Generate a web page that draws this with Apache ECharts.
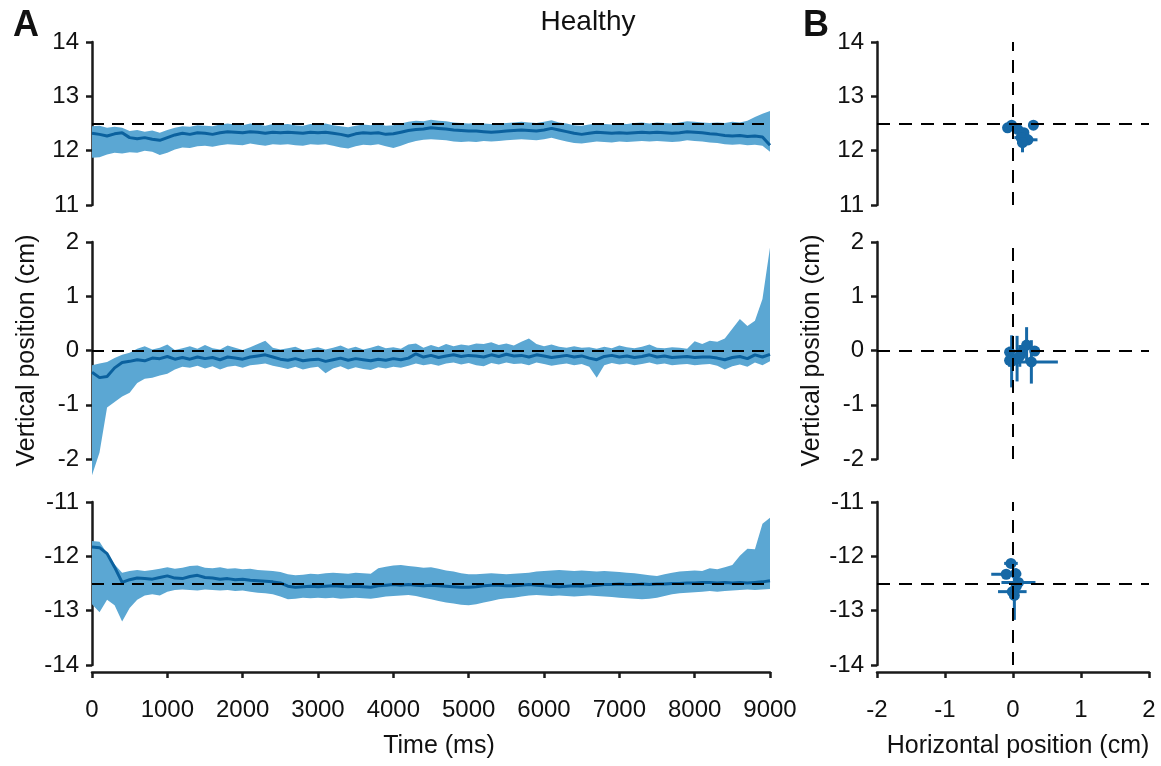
<!DOCTYPE html>
<html>
<head>
<meta charset="utf-8">
<script src="https://cdn.jsdelivr.net/npm/echarts@6/dist/echarts.min.js"></script>
<style>
html,body{margin:0;padding:0;background:#fff;}
#chart{width:1161px;height:766px;}
</style>
</head>
<body>
<div id="chart"></div>
<script>
// ---------------- DATA ----------------
const time = [0,100,200,300,400,500,600,700,800,900,1000,1100,1200,1300,1400,1500,1600,1700,1800,1900,2000,2100,2200,2300,2400,2500,2600,2700,2800,2900,3000,3100,3200,3300,3400,3500,3600,3700,3800,3900,4000,4100,4200,4300,4400,4500,4600,4700,4800,4900,5000,5100,5200,5300,5400,5500,5600,5700,5800,5900,6000,6100,6200,6300,6400,6500,6600,6700,6800,6900,7000,7100,7200,7300,7400,7500,7600,7700,7800,7900,8000,8100,8200,8300,8400,8500,8600,8700,8800,8900,9000];

// Top target (12.5)
const topMean = [12.32,12.30,12.27,12.31,12.33,12.24,12.22,12.24,12.21,12.19,12.24,12.29,12.32,12.30,12.33,12.32,12.30,12.33,12.35,12.34,12.33,12.35,12.34,12.32,12.34,12.33,12.34,12.33,12.32,12.34,12.33,12.34,12.32,12.30,12.27,12.31,12.33,12.32,12.33,12.30,12.31,12.34,12.37,12.39,12.40,12.42,12.41,12.40,12.38,12.37,12.36,12.36,12.35,12.34,12.35,12.36,12.37,12.38,12.37,12.36,12.38,12.41,12.38,12.35,12.32,12.30,12.32,12.34,12.33,12.32,12.33,12.32,12.33,12.34,12.33,12.34,12.33,12.32,12.33,12.35,12.34,12.33,12.31,12.30,12.28,12.27,12.28,12.26,12.27,12.25,12.10];
const topHigh = [12.45,12.46,12.42,12.44,12.42,12.36,12.38,12.35,12.37,12.33,12.38,12.42,12.45,12.44,12.47,12.46,12.45,12.48,12.50,12.48,12.47,12.50,12.48,12.46,12.49,12.48,12.49,12.47,12.46,12.49,12.48,12.50,12.47,12.45,12.43,12.46,12.48,12.47,12.49,12.46,12.47,12.50,12.53,12.55,12.54,12.57,12.55,12.54,12.52,12.51,12.50,12.51,12.50,12.49,12.50,12.51,12.52,12.53,12.52,12.51,12.53,12.56,12.52,12.50,12.47,12.46,12.48,12.50,12.49,12.48,12.50,12.49,12.51,12.52,12.50,12.52,12.51,12.50,12.52,12.54,12.53,12.52,12.51,12.52,12.51,12.53,12.52,12.55,12.62,12.68,12.73];
const topLow = [11.87,11.88,11.93,11.96,11.95,11.97,11.96,12.00,11.98,11.92,11.96,12.02,12.06,12.05,12.08,12.09,12.07,12.10,12.12,12.11,12.10,12.13,12.11,12.09,12.12,12.11,12.12,12.10,12.09,12.12,12.11,12.12,12.09,12.06,12.04,12.08,12.11,12.10,12.12,12.08,12.05,12.09,12.14,12.18,12.20,12.21,12.20,12.19,12.17,12.16,12.17,12.16,12.18,12.17,12.18,12.19,12.20,12.21,12.20,12.19,12.21,12.24,12.20,12.17,12.14,12.13,12.15,12.17,12.16,12.15,12.17,12.16,12.17,12.18,12.17,12.18,12.17,12.16,12.17,12.19,12.18,12.17,12.15,12.14,12.12,12.11,12.12,12.10,12.11,12.09,11.98];

// Middle target (0)
const midMean = [-0.40,-0.50,-0.48,-0.32,-0.22,-0.20,-0.17,-0.19,-0.14,-0.15,-0.11,-0.16,-0.13,-0.16,-0.12,-0.15,-0.13,-0.17,-0.12,-0.14,-0.16,-0.12,-0.10,-0.08,-0.12,-0.16,-0.18,-0.15,-0.19,-0.17,-0.16,-0.20,-0.17,-0.14,-0.18,-0.15,-0.17,-0.19,-0.16,-0.18,-0.15,-0.17,-0.14,-0.06,-0.12,-0.09,-0.13,-0.10,-0.08,-0.11,-0.09,-0.10,-0.12,-0.08,-0.11,-0.07,-0.10,-0.09,-0.12,-0.08,-0.10,-0.13,-0.11,-0.09,-0.12,-0.10,-0.14,-0.17,-0.11,-0.09,-0.12,-0.10,-0.13,-0.11,-0.08,-0.12,-0.10,-0.13,-0.12,-0.11,-0.13,-0.12,-0.12,-0.14,-0.17,-0.13,-0.11,-0.15,-0.08,-0.12,-0.07];
const midHigh = [-0.27,-0.24,-0.21,-0.14,-0.08,-0.04,0.03,0.08,0.02,0.05,0.11,0.01,0.04,0.08,0.03,0.10,0.04,0.02,0.09,0.05,0.01,0.06,0.12,0.18,0.05,0.02,0.04,0.07,0.01,0.03,0.06,0.02,0.05,0.09,0.03,0.07,0.02,0.05,0.09,0.04,0.06,0.03,0.11,0.13,0.05,0.10,0.06,0.12,0.08,0.11,0.09,0.13,0.12,0.15,0.10,0.13,0.09,0.16,0.22,0.12,0.08,0.11,0.07,0.05,0.08,0.05,0.06,0.03,0.07,0.04,0.09,0.06,0.04,0.07,0.11,0.05,0.04,0.06,0.05,0.03,0.17,0.12,0.18,0.16,0.22,0.40,0.58,0.45,0.55,0.95,1.90];
const midLow = [-2.30,-1.88,-1.05,-0.95,-0.85,-0.78,-0.60,-0.52,-0.50,-0.46,-0.43,-0.35,-0.30,-0.32,-0.28,-0.33,-0.29,-0.35,-0.30,-0.28,-0.32,-0.27,-0.26,-0.24,-0.28,-0.31,-0.34,-0.30,-0.35,-0.32,-0.30,-0.42,-0.33,-0.29,-0.35,-0.31,-0.34,-0.36,-0.31,-0.33,-0.30,-0.32,-0.28,-0.24,-0.27,-0.25,-0.28,-0.24,-0.22,-0.26,-0.23,-0.27,-0.29,-0.23,-0.26,-0.22,-0.25,-0.24,-0.27,-0.22,-0.25,-0.28,-0.26,-0.24,-0.27,-0.25,-0.30,-0.50,-0.27,-0.23,-0.26,-0.24,-0.27,-0.25,-0.22,-0.26,-0.24,-0.27,-0.26,-0.25,-0.27,-0.26,-0.25,-0.28,-0.35,-0.29,-0.26,-0.30,-0.22,-0.27,-0.20];

// Bottom target (-12.5)
const botMean = [-11.83,-11.84,-11.95,-12.20,-12.48,-12.43,-12.40,-12.41,-12.42,-12.39,-12.36,-12.40,-12.41,-12.37,-12.35,-12.39,-12.40,-12.42,-12.41,-12.43,-12.42,-12.44,-12.45,-12.46,-12.47,-12.49,-12.55,-12.57,-12.56,-12.55,-12.56,-12.55,-12.54,-12.55,-12.56,-12.55,-12.56,-12.57,-12.54,-12.53,-12.52,-12.53,-12.52,-12.53,-12.54,-12.53,-12.54,-12.55,-12.56,-12.57,-12.57,-12.56,-12.54,-12.53,-12.53,-12.54,-12.54,-12.53,-12.52,-12.53,-12.54,-12.55,-12.56,-12.55,-12.54,-12.55,-12.54,-12.53,-12.52,-12.52,-12.51,-12.52,-12.52,-12.51,-12.52,-12.51,-12.51,-12.50,-12.50,-12.49,-12.49,-12.48,-12.48,-12.49,-12.48,-12.49,-12.48,-12.49,-12.48,-12.47,-12.45];
const botHigh = [-11.72,-11.73,-11.95,-12.15,-12.30,-12.27,-12.25,-12.27,-12.25,-12.23,-12.20,-12.23,-12.21,-12.18,-12.17,-12.21,-12.22,-12.20,-12.23,-12.22,-12.24,-12.23,-12.25,-12.26,-12.27,-12.29,-12.33,-12.35,-12.34,-12.32,-12.33,-12.31,-12.30,-12.31,-12.32,-12.30,-12.31,-12.32,-12.22,-12.19,-12.17,-12.16,-12.18,-12.19,-12.21,-12.20,-12.23,-12.26,-12.28,-12.31,-12.33,-12.33,-12.32,-12.31,-12.32,-12.33,-12.32,-12.31,-12.30,-12.28,-12.27,-12.26,-12.25,-12.26,-12.27,-12.26,-12.27,-12.28,-12.27,-12.28,-12.29,-12.30,-12.31,-12.33,-12.35,-12.36,-12.33,-12.30,-12.28,-12.27,-12.26,-12.27,-12.22,-12.24,-12.20,-12.16,-11.99,-11.86,-11.87,-11.40,-11.29];
const botLow = [-12.88,-13.03,-12.80,-12.90,-13.20,-12.95,-12.80,-12.72,-12.70,-12.72,-12.65,-12.62,-12.61,-12.62,-12.63,-12.61,-12.62,-12.63,-12.62,-12.64,-12.63,-12.65,-12.67,-12.68,-12.70,-12.74,-12.79,-12.78,-12.76,-12.77,-12.76,-12.77,-12.76,-12.78,-12.77,-12.76,-12.77,-12.78,-12.76,-12.74,-12.73,-12.72,-12.71,-12.73,-12.76,-12.79,-12.82,-12.85,-12.87,-12.89,-12.90,-12.88,-12.85,-12.82,-12.79,-12.77,-12.76,-12.74,-12.72,-12.71,-12.72,-12.73,-12.72,-12.73,-12.74,-12.73,-12.72,-12.73,-12.74,-12.75,-12.76,-12.77,-12.78,-12.79,-12.78,-12.76,-12.73,-12.70,-12.68,-12.67,-12.66,-12.65,-12.64,-12.65,-12.64,-12.63,-12.62,-12.61,-12.62,-12.61,-12.60];

const targets = [12.5, 0, -12.5];
const yRanges = [[11, 14], [-2, 2], [-14, -11]];
const xRangeB = [-2, 2];

// Panel B endpoints: [x, y, xErr, yErr]
const endTop = [[-0.08,12.42,0.04,0.04],[-0.02,12.47,0.05,0.05],[0.07,12.39,0.05,0.05],[0.16,12.33,0.06,0.06],[0.30,12.47,0.04,0.04],[0.12,12.24,0.10,0.08],[0.22,12.20,0.14,0.10],[0.14,12.15,0.08,0.18]];
const endMid = [[0.20,0.10,0.05,0.33],[0.32,-0.01,0.07,0.06],[0.27,-0.21,0.39,0.40],[-0.05,-0.03,0.05,0.10],[-0.05,-0.18,0.05,0.12],[-0.02,-0.20,0.04,0.48],[0.06,-0.15,0.05,0.42],[0.12,-0.05,0.06,0.15],[0.10,-0.10,0.08,0.20]];
const endBot = [[-0.03,-12.13,0.10,0.06],[-0.10,-12.33,0.22,0.08],[0.04,-12.32,0.08,0.10],[0.08,-12.48,0.25,0.08],[-0.01,-12.65,0.21,0.12],[0.02,-12.72,0.05,0.45],[0.05,-12.55,0.06,0.15]];

// ---------------- STYLE ----------------
const FONT = "'Liberation Sans', Arial, Helvetica, sans-serif";
const BAND = '#5ba7d3';
const MEAN = '#0b619e';
const PT = '#1668a6';
const AX = '#1a1a1a';

const chart = echarts.init(document.getElementById('chart'));

const tops = [42, 242, 502];
const heights = [163, 217, 163];

const grids = [], xAxes = [], yAxes = [], series = [];

function yAxisDef(gi, k) {
  return {
    type: 'value', gridIndex: gi, min: yRanges[k][0], max: yRanges[k][1], interval: 1,
    axisLine: {show: true, onZero: false, lineStyle: {color: AX, width: 2.5}},
    axisTick: {show: true, length: 6, lineStyle: {color: AX, width: 2.5}},
    axisLabel: {color: '#111', fontSize: 24, fontFamily: FONT, margin: 13},
    splitLine: {show: false},
    name: k === 1 ? 'Vertical position (cm)' : '',
    nameLocation: 'middle', nameGap: 52,
    nameTextStyle: {color: '#111', fontSize: 25, fontFamily: FONT}
  };
}

const meanArr = [topMean, midMean, botMean];
const highArr = [topHigh, midHigh, botHigh];
const lowArr = [topLow, midLow, botLow];
const endArr = [endTop, endMid, endBot];

for (let k = 0; k < 3; k++) {
  // Panel A grid
  const gA = grids.length;
  grids.push({left: 92, width: 678, top: tops[k], height: heights[k]});
  xAxes.push({
    type: 'category', gridIndex: gA, data: time, boundaryGap: false,
    show: k === 2, offset: 7,
    axisLine: {show: true, onZero: false, lineStyle: {color: AX, width: 2.5}},
    axisTick: {show: true, interval: 9, length: 6, lineStyle: {color: AX, width: 2.5}},
    axisLabel: {interval: 9, color: '#111', fontSize: 24, fontFamily: FONT, margin: 26},
    splitLine: {show: false},
    name: k === 2 ? 'Time (ms)' : '', nameLocation: 'middle', nameGap: 62,
    nameTextStyle: {color: '#111', fontSize: 25, fontFamily: FONT, padding: [0, 0, 0, 16]}
  });
  yAxes.push(yAxisDef(gA, k));

  const low = lowArr[k], high = highArr[k];
  series.push({
    type: 'line', xAxisIndex: gA, yAxisIndex: gA, data: low, stack: 'band' + k, stackStrategy: 'all',
    symbol: 'none', lineStyle: {opacity: 0}, silent: true, clip: false, z: 1
  });
  series.push({
    type: 'line', xAxisIndex: gA, yAxisIndex: gA,
    data: high.map((h, i) => +(h - low[i]).toFixed(4)), stack: 'band' + k, stackStrategy: 'all',
    symbol: 'none', lineStyle: {opacity: 0}, areaStyle: {color: BAND, opacity: 1}, silent: true, clip: false, z: 1
  });
  series.push({
    type: 'line', xAxisIndex: gA, yAxisIndex: gA, data: meanArr[k],
    symbol: 'none', lineStyle: {color: MEAN, width: 3}, silent: true, z: 3
  });
  series.push({
    type: 'line', xAxisIndex: gA, yAxisIndex: gA, data: [], z: 5, silent: true,
    markLine: {
      silent: true, symbol: ['none', 'none'], label: {show: false},
      lineStyle: {color: '#000', width: 2, type: [12, 8]},
      data: [{yAxis: targets[k]}]
    }
  });

  // Panel B grid
  const gB = grids.length;
  grids.push({left: 877, width: 272, top: tops[k], height: heights[k]});
  xAxes.push({
    type: 'value', gridIndex: gB, min: xRangeB[0], max: xRangeB[1], interval: 1,
    show: k === 2, offset: 7,
    axisLine: {show: true, onZero: false, lineStyle: {color: AX, width: 2.5}},
    axisTick: {show: true, length: 6, lineStyle: {color: AX, width: 2.5}},
    axisLabel: {color: '#111', fontSize: 24, fontFamily: FONT, margin: 26},
    splitLine: {show: false},
    name: k === 2 ? 'Horizontal position (cm)' : '', nameLocation: 'middle', nameGap: 62,
    nameTextStyle: {color: '#111', fontSize: 25, fontFamily: FONT, padding: [0, 0, 0, 10]}
  });
  yAxes.push(yAxisDef(gB, k));

  series.push({
    type: 'line', xAxisIndex: gB, yAxisIndex: gB, data: [], z: 1, silent: true,
    markLine: {
      silent: true, symbol: ['none', 'none'], label: {show: false},
      lineStyle: {color: '#000', width: 2, type: [13, 9]},
      data: [{yAxis: targets[k]}, {xAxis: 0}]
    }
  });
  series.push({
    type: 'custom', xAxisIndex: gB, yAxisIndex: gB, data: endArr[k], z: 4, silent: true,
    dimensions: ['x', 'y', 'ex', 'ey'], encode: {x: 0, y: 1},
    clip: false,
    renderItem: function (params, api) {
      const x = api.value(0), y = api.value(1), ex = api.value(2), ey = api.value(3);
      const c = api.coord([x, y]);
      const l = api.coord([x - ex, y]), r = api.coord([x + ex, y]);
      const t = api.coord([x, y + ey]), b = api.coord([x, y - ey]);
      const st = {stroke: PT, lineWidth: 3};
      return {type: 'group', children: [
        {type: 'line', shape: {x1: l[0], y1: l[1], x2: r[0], y2: r[1]}, style: st},
        {type: 'line', shape: {x1: t[0], y1: t[1], x2: b[0], y2: b[1]}, style: st},
        {type: 'circle', shape: {cx: c[0], cy: c[1], r: 5.5}, style: {fill: PT}}
      ]};
    }
  });
}

chart.setOption({
  animation: false,
  backgroundColor: '#fff',
  grid: grids, xAxis: xAxes, yAxis: yAxes, series: series,
  graphic: [
    {type: 'text', position: [588, 22], style: {text: 'Healthy', fill: '#111', font: '28px ' + FONT, textAlign: 'center', textVerticalAlign: 'middle'}},
    {type: 'text', position: [26, 26], style: {text: 'A', fill: '#111', font: 'bold 36px ' + FONT, textAlign: 'center', textVerticalAlign: 'middle'}},
    {type: 'text', position: [816, 26], style: {text: 'B', fill: '#111', font: 'bold 36px ' + FONT, textAlign: 'center', textVerticalAlign: 'middle'}}
  ]
});
</script>
</body>
</html>
